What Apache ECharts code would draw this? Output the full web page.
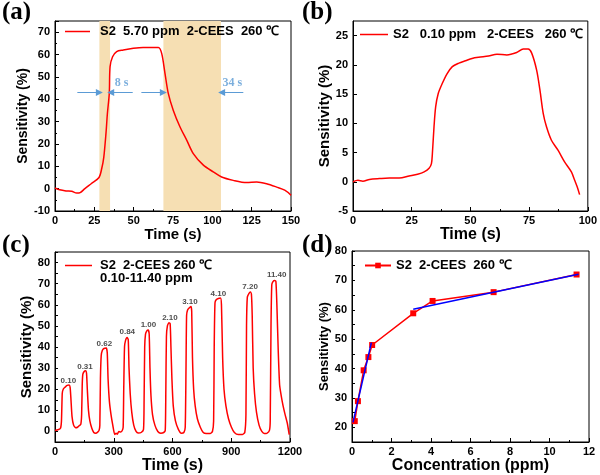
<!DOCTYPE html>
<html>
<head>
<meta charset="utf-8">
<script src="https://cdn.jsdelivr.net/npm/echarts@6/dist/echarts.min.js"></script>
<style>html,body{margin:0;padding:0;background:#fff}#c{width:600px;height:475px}</style>
</head>
<body>
<div id="c"></div>
<script>
// Panel (a)
const timeA = [0,3,7,10.6,13.8,16,19,23,28,29.7,31,32.4,33.3,34.5,35,36.6,39.2,43.4,49.8,56,65.7,67.8,69.9,72,75.2,79.4,83.7,87.9,94.3,100.6,105.9,113.3,121.8,128.2,134.5,140.9,146,150];
const sensA = [0.3,-0.5,-1,-1.2,-2,-1.8,0,2.2,5,9,14,24.7,33.6,42.6,54.6,59,61.3,62,62.8,63.2,63.1,60.5,51.6,42.6,35,27.7,21.7,15.7,10.5,7.5,5.2,3.7,2.7,3,2.2,0.7,-0.7,-3];
const shadeA = [[28.2,35],[68.9,105.5]];
const arrowsA = [[14.2,28.2,43],[49.4,35.4,43],[54.9,68.9,43],[119.7,105.9,43]];
const notesA = [[42.4,47.1,'8 s'],[112.7,47.4,'34 s']];
const nameA = 'S2  5.70 ppm  2-CEES  260 ℃';

// Panel (b)
const timeB = [0,2.1,4.2,7,11.3,15.5,19.7,23.9,27.5,30.3,32.4,33.4,33.8,34.5,35.2,36.3,38,40.1,42.3,45.1,47.9,50.7,53.5,57.7,61.3,65.5,69.7,72.5,74.6,76.1,78.2,79.6,81,82.4,84.5,87.3,90.1,93,94.4,95.5,96.5];
const sensB = [0,0.25,0.1,0.4,0.55,0.65,0.65,1,1.3,1.7,2.3,3.1,4.8,9.4,12.8,15.1,16.8,18.5,19.7,20.3,20.7,21.1,21.3,21.5,21.8,21.7,22.1,22.7,22.7,22,19.1,15.7,11.7,9.4,7.1,5.4,3.4,1.7,0.25,-0.9,-2.2];
const nameB = 'S2   0.10 ppm   2-CEES   260 ℃';

// Panel (c)
const timeC = [0,15,28,33,37,42,52,62,72,77,81,87,95,105,115,125,132,136,139,142,148,156,161,165,171,178,188,198,208,218,225,229,232,236,242,250,262,267,271,278,286,295,305,312,318,326,335,342,348,351,355,360,368,374,378,384,392,402,414,425,440,452,455,458,462,468,476,481,485,490,498,510,525,540,555,563,566,569,574,582,588,592,597,604,615,630,645,658,665,669,672,677,685,694,698,702,708,716,727,742,757,772,792,804,810,813,817,824,834,845,850,856,863,873,886,901,916,936,956,969,975,978,982,990,998,1003,1007,1012,1019,1029,1042,1056,1069,1083,1095,1099,1103,1107,1113,1122,1128,1133,1140,1147,1155,1165,1175,1186,1196];
const sensC = [0.5,0.8,1.5,5,18,20,21,21.8,22,21,16,7,3,1.8,2,2.8,3.5,8,22,27,28.3,28.8,27.5,20,10,5,1.5,-0.5,-0.8,-0.3,0.5,3,25,36,38.5,39.3,39.5,37,25,14,8,3,-1.5,-0.8,-1.3,0,-0.3,0.2,2,20,40,43,44.5,43.5,30,18,9,3,0,-0.7,-0.5,1,15,40,46,47.5,48,46,30,17,8,3,0,-0.8,-0.5,0.5,20,45,50,51.5,51,40,25,12,5,1,-0.8,-0.5,2,30,55,57.5,58.5,59.2,57,35,20,12,6,2,-0.5,-1,-1,0,5,40,61,62.5,63,63.2,60,35,20,12,6,2,-0.5,-1.5,-1.5,-0.5,8,50,63.5,65.3,66,65,55,30,18,9,3,0,-1,-0.8,0.5,5,50,69.5,71,71.5,71,60,38,22,17,12,8,4,-1.5];
const peakLabelsC = [[68,24.1,'0.10'],[153,30.7,'0.31'],[252,41.5,'0.62'],[369,47,'0.84'],[477,50.5,'1.00'],[587,53.9,'2.10'],[689,61.3,'3.10'],[834,65.1,'4.10'],[996,68.4,'7.20'],[1132,74,'11.40']];
const nameC = 'S2  2-CEES 260 ℃';
const rangeTextC = '0.10-11.40 ppm';

// Panel (d)
const concD = [0.14,0.3,0.59,0.83,1.02,3.1,4.08,7.17,11.37];
const sensD = [22.1,28.9,39.4,43.9,48,58.8,63,66,72];
const fitD1 = [[0.05,21.7],[0.98,48.8]];
const fitD2 = [[3.1,60.2],[11.47,72.1]];
const nameD = 'S2  2-CEES  260 ℃';

const FONT = 'Liberation Sans';
const grids = [
  {left:55, top:21, width:236, height:190},
  {left:353, top:21, width:237, height:190},
  {left:55, top:252, width:235, height:190},
  {left:352, top:251, width:237, height:191}
].map(g => Object.assign({show:true, borderColor:'#000', borderWidth:1, backgroundColor:'transparent'}, g));

const plain = v => String(v);
function axisBase(extra){
  return Object.assign({
    axisLine:{show:true, onZero:false, lineStyle:{color:'#000', width:1}},
    axisTick:{show:true, inside:true, length:4, lineStyle:{color:'#000'}},
    minorTick:{show:true, splitNumber:2, length:2, lineStyle:{color:'#000'}},
    splitLine:{show:false},
    axisLabel:{color:'#000', fontFamily:FONT, fontWeight:'bold', fontSize:11, margin:4, formatter:plain},
    nameLocation:'middle',
    nameTextStyle:{color:'#000', fontFamily:FONT, fontWeight:'bold', fontSize:16}
  }, extra);
}
const tens = v => (Math.round(v) % 10 === 0 ? String(v) : '');

const xAxes = [
  axisBase({type:'value', gridIndex:0, min:0, max:150, interval:25, name:'Time (s)', nameGap:11, nameTextStyle:{color:'#000', fontFamily:FONT, fontWeight:'bold', fontSize:15}}),
  axisBase({type:'value', gridIndex:1, min:0, max:100, interval:25, name:'Time (s)', nameGap:11}),
  axisBase({type:'value', gridIndex:2, min:0, max:1200, interval:300, name:'Time (s)', nameGap:12}),
  axisBase({type:'value', gridIndex:3, min:0, max:12, interval:2, name:'Concentration (ppm)', nameGap:13})
];
const yAxes = [
  axisBase({type:'value', gridIndex:0, min:-10, max:75, interval:10, name:'Sensitivity (%)', nameGap:19,
    axisLabel:{color:'#000', fontFamily:FONT, fontWeight:'bold', fontSize:11, margin:5, showMaxLabel:false, formatter:plain},
    nameTextStyle:{color:'#000', fontFamily:FONT, fontWeight:'bold', fontSize:14}}),
  axisBase({type:'value', gridIndex:1, min:-5, max:27.5, interval:5, name:'Sensitivity (%)', nameGap:18,
    axisLabel:{color:'#000', fontFamily:FONT, fontWeight:'bold', fontSize:11, margin:5, showMaxLabel:false, formatter:plain},
    minorTick:{show:false},
    nameTextStyle:{color:'#000', fontFamily:FONT, fontWeight:'bold', fontSize:15}}),
  axisBase({type:'value', gridIndex:2, min:-5, max:85, interval:5, name:'Sensitivity (%)', nameGap:17,
    axisLabel:{color:'#000', fontFamily:FONT, fontWeight:'bold', fontSize:11, margin:5, formatter:tens},
    axisTick:{show:true, inside:true, length:3, lineStyle:{color:'#000'}},
    minorTick:{show:false},
    nameTextStyle:{color:'#000', fontFamily:FONT, fontWeight:'bold', fontSize:15}}),
  axisBase({type:'value', gridIndex:3, min:15, max:80, interval:5, name:'Sensitivity (%)', nameGap:20,
    axisLabel:{color:'#000', fontFamily:FONT, fontWeight:'bold', fontSize:11, margin:5, formatter:tens},
    axisTick:{show:true, inside:true, length:3, lineStyle:{color:'#000'}},
    minorTick:{show:false},
    nameTextStyle:{color:'#000', fontFamily:FONT, fontWeight:'bold', fontSize:13}})
];

const zip = (xs, ys) => xs.map((x, i) => [x, ys[i]]);
const RED = '#ff0000', BLUE_NOTE = '#5b9bd5';

const series = [
  {
    name:nameA, type:'line', xAxisIndex:0, yAxisIndex:0, data:zip(timeA, sensA),
    symbol:'none', smooth:0.3, lineStyle:{color:RED, width:1.5}, itemStyle:{color:RED}, z:3,
    markArea:{silent:true, itemStyle:{color:'#f6dfb3'}, data: shadeA.map(s => [{xAxis:s[0]}, {xAxis:s[1]}])},
    markLine:{silent:true, symbol:['none','triangle'], symbolSize:7, label:{show:false},
      lineStyle:{color:BLUE_NOTE, width:1, type:'solid'},
      data: arrowsA.map(a => [{coord:[a[0], a[2]]}, {coord:[a[1], a[2]]}])}
  },
  {
    type:'scatter', xAxisIndex:0, yAxisIndex:0, data:notesA, symbolSize:1, silent:true,
    itemStyle:{color:'rgba(0,0,0,0)'},
    label:{show:true, position:'inside', formatter:p => p.data[2], color:BLUE_NOTE, fontFamily:'Liberation Serif', fontWeight:'bold', fontSize:12}
  },
  {
    name:nameB, type:'line', xAxisIndex:1, yAxisIndex:1, data:zip(timeB, sensB),
    symbol:'none', smooth:0.3, lineStyle:{color:RED, width:1.5}, itemStyle:{color:RED}
  },
  {
    name:nameC, type:'line', xAxisIndex:2, yAxisIndex:2, data:zip(timeC, sensC),
    symbol:'none', smooth:0.2, lineStyle:{color:RED, width:1.5}, itemStyle:{color:RED}
  },
  {
    type:'scatter', xAxisIndex:2, yAxisIndex:2, data:peakLabelsC, symbolSize:1, silent:true,
    itemStyle:{color:'rgba(0,0,0,0)'},
    label:{show:true, position:'inside', formatter:p => p.data[2], color:'#222', fontFamily:FONT, fontWeight:'bold', fontSize:8}
  },
  {
    name:nameD, type:'line', xAxisIndex:3, yAxisIndex:3, data:zip(concD, sensD),
    symbol:'rect', symbolSize:6, showSymbol:true, lineStyle:{color:RED, width:1.5}, itemStyle:{color:RED}, z:3
  },
  {
    type:'line', xAxisIndex:3, yAxisIndex:3, data:fitD1, symbol:'none', lineStyle:{color:'#0000ff', width:1.5}, z:4
  },
  {
    type:'line', xAxisIndex:3, yAxisIndex:3, data:fitD2, symbol:'none', lineStyle:{color:'#0000ff', width:1.5}, z:4
  }
];

const legTxt = {color:'#000', fontFamily:FONT, fontWeight:'bold', fontSize:13};
const legends = [
  {data:[{name:nameA, icon:'rect'}], left:65, top:25, itemWidth:25, itemHeight:1.5, textStyle:Object.assign({padding:[0,0,0,5]}, legTxt)},
  {data:[{name:nameB, icon:'rect'}], left:360, top:28, itemWidth:28, itemHeight:1.5, textStyle:legTxt},
  {data:[{name:nameC, icon:'rect'}], left:65, top:259, itemWidth:27, itemHeight:1.5, textStyle:Object.assign({padding:[0,0,0,3]}, legTxt)},
  {data:[nameD], left:364, top:259, itemWidth:26, itemHeight:7, textStyle:legTxt}
].map(l => Object.assign({selectedMode:false, padding:0, inactiveColor:'#000'}, l));

const panelFont = {fontFamily:'Liberation Serif', fontWeight:'bold', fontSize:25, fill:'#000'};
const graphic = [
  {type:'text', left:2, top:0, style:Object.assign({text:'(a)'}, panelFont)},
  {type:'text', left:302, top:0, style:Object.assign({text:'(b)'}, panelFont)},
  {type:'text', left:2, top:233, style:Object.assign({text:'(c)'}, panelFont)},
  {type:'text', left:302, top:233, style:Object.assign({text:'(d)'}, panelFont)},
  {type:'text', left:100, top:272, style:{text:rangeTextC, fontFamily:FONT, fontWeight:'bold', fontSize:13, fill:'#000'}}
];

const chart = echarts.init(document.getElementById('c'), null, {renderer:'canvas'});
chart.setOption({
  animation:false,
  backgroundColor:'#fff',
  grid:grids, xAxis:xAxes, yAxis:yAxes, series:series, legend:legends, graphic:graphic
});
</script>
</body>
</html>
